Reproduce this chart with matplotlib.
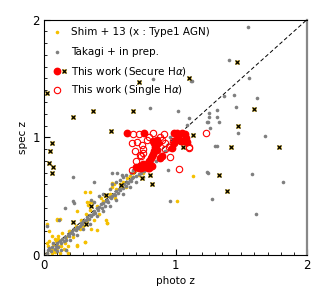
import matplotlib
matplotlib.use("Agg")
import matplotlib.pyplot as plt
from matplotlib.ticker import MultipleLocator

# ---------------- data ----------------
takagi_x = [0.02, 0.03, 0.04, 0.05, 0.06, 0.07, 0.08, 0.09, 0.10, 0.10, 0.11, 0.12, 0.13, 0.13, 0.14, 0.15,
            0.16, 0.17, 0.17, 0.18, 0.19, 0.20, 0.20, 0.21, 0.22, 0.23, 0.24, 0.25, 0.25, 0.26, 0.27, 0.28,
            0.29, 0.30, 0.30, 0.31, 0.32, 0.33, 0.34, 0.35, 0.35, 0.36, 0.36, 0.37, 0.38, 0.38, 0.39, 0.40,
            0.40, 0.41, 0.42, 0.42, 0.43, 0.44, 0.45, 0.45, 0.45, 0.46, 0.47, 0.48, 0.49, 0.50, 0.50, 0.50,
            0.51, 0.52, 0.52, 0.53, 0.54, 0.55, 0.55, 0.55, 0.56, 0.57, 0.58, 0.58, 0.59, 0.60, 0.60, 0.60,
            0.61, 0.62, 0.62, 0.63, 0.64, 0.65, 0.65, 0.66, 0.66, 0.67, 0.68, 0.68, 0.70, 0.70, 0.72, 0.72,
            0.74, 0.75, 0.76, 0.76, 0.78, 0.80, 0.82, 0.85, 0.88, 0.90, 0.92, 0.95, 0.98, 0.96, 1.00, 1.02,
            0.223, 0.38, 0.52, 0.553, 0.59, 0.224, 0.228, 0.157, 0.117, 0.025,
            0.945, 0.958, 1.085, 1.237, 1.25, 1.242, 1.58, 1.815, 1.28, 1.612,
            1.30, 1.315, 1.478, 1.68, 1.262, 1.245, 1.33, 1.255, 1.316, 1.255, 1.313, 1.46, 1.021, 1.103,
            1.369, 1.447, 1.62, 1.118, 1.559, 1.407, 1.549, 0.826, 0.808, 1.123]
takagi_y = [0.02, 0.04, 0.06, 0.03, 0.07, 0.10, 0.05, 0.08, 0.10, 0.03, 0.07, 0.12, 0.10, 0.04, 0.14, 0.12,
            0.15, 0.13, 0.04, 0.17, 0.16, 0.19, 0.13, 0.20, 0.18, 0.22, 0.21, 0.24, 0.17, 0.23, 0.25, 0.27,
            0.26, 0.29, 0.22, 0.28, 0.30, 0.32, 0.31, 0.34, 0.26, 0.33, 0.47, 0.35, 0.37, 0.45, 0.36, 0.40,
            0.33, 0.38, 0.41, 0.50, 0.43, 0.40, 0.44, 0.52, 0.37, 0.42, 0.46, 0.47, 0.45, 0.49, 0.56, 0.42,
            0.48, 0.50, 0.60, 0.52, 0.51, 0.54, 0.62, 0.47, 0.53, 0.56, 0.55, 0.64, 0.58, 0.57, 0.66, 0.52,
            0.60, 0.59, 0.68, 0.62, 0.61, 0.64, 0.58, 0.63, 0.70, 0.65, 0.66, 0.72, 0.67, 0.62, 0.69, 0.74,
            0.70, 0.66, 0.71, 0.76, 0.73, 0.74, 0.78, 0.80, 0.84, 0.86, 0.88, 0.90, 0.95, 1.00, 0.98, 1.02,
            0.66, 0.623, 0.694, 0.70, 0.68, 0.46, 0.445, 0.397, 0.30, 0.246,
            0.72, 0.459, 1.105, 1.13, 0.70, 0.702, 0.69, 0.618, 0.477, 0.347,
            0.926, 0.926, 1.034, 1.011, 1.076, 1.13, 1.13, 1.17, 1.172, 1.204, 1.232, 1.255, 1.226, 1.166,
            1.35, 1.357, 1.336, 1.478, 1.50, 1.657, 1.94, 1.495, 1.25, 1.478]

shim_x = [0.02, 0.03, 0.04, 0.05, 0.06, 0.07, 0.08, 0.09, 0.10, 0.11, 0.12, 0.13, 0.15, 0.16, 0.17, 0.18,
          0.20, 0.22, 0.24, 0.25, 0.27, 0.28, 0.30, 0.31, 0.32, 0.33, 0.35, 0.36, 0.37, 0.38, 0.40, 0.42,
          0.43, 0.45, 0.47, 0.48, 0.50, 0.52, 0.55, 0.58, 0.60, 0.62, 0.65, 0.68, 0.70, 0.72, 0.75,
          0.10, 0.122, 0.096, 0.084, 0.02, 0.25, 0.312, 0.347, 0.325, 0.515, 1.009, 1.133, 0.19, 0.14,
          0.06, 0.04, 0.058, 0.084, 0.109, 0.17, 0.18, 0.02, 0.11, 0.337, 0.35, 0.477, 0.40, 0.532, 0.629,
          0.54, 0.464, 0.249, 0.312]
shim_y = [0.02, 0.08, 0.12, 0.05, 0.02, 0.09, 0.04, 0.12, 0.06, 0.14, 0.02, 0.08, 0.05, 0.10, 0.15, 0.08,
          0.20, 0.15, 0.25, 0.08, 0.22, 0.30, 0.25, 0.11, 0.35, 0.30, 0.38, 0.22, 0.45, 0.30, 0.42, 0.35,
          0.48, 0.46, 0.30, 0.27, 0.52, 0.58, 0.56, 0.60, 0.62, 0.58, 0.67, 0.70, 0.72, 0.68, 0.70,
          0.30, 0.306, 0.31, 0.14, 0.26, 0.37, 0.538, 0.538, 0.453, 0.61, 0.461, 0.674, 0.20, 0.19,
          0.16, 0.20, 0.045, 0.026, 0.074, 0.045, 0.02, 0.10, 0.16, 0.427, 0.45, 0.272, 0.215, 0.603, 0.654,
          0.484, 0.498, 0.085, 0.113]

agn_x = [0.02, 0.223, 0.375, 0.507, 0.674, 0.725, 1.103, 1.13, 1.465, 1.597, 1.475, 1.42, 1.79,
         0.058, 0.046, 0.04, 0.066, 0.058, 0.223, 0.32, 0.355, 0.743, 0.806, 0.819, 1.333, 1.389,
         1.06, 1.02, 0.47, 0.588]
agn_y = [1.375, 1.17, 1.223, 1.054, 1.223, 1.472, 1.50, 1.022, 1.637, 1.24, 1.099, 0.92, 0.92,
         0.954, 0.886, 0.78, 0.748, 0.70, 0.28, 0.266, 0.42, 0.654, 0.68, 0.60, 0.68, 0.546,
         0.915, 0.96, 0.51, 0.595]

secure_x = [0.63, 0.76, 0.99, 1.01, 1.05, 1.07, 1.02, 1.04, 1.06, 1.09, 1.08, 1.005, 0.99, 0.97, 0.88, 0.90,
            0.83, 0.84, 0.845, 0.85, 0.855, 0.86, 0.84, 0.83, 0.82, 0.81, 0.80, 0.79, 0.78, 0.76, 0.74, 0.72,
            0.70, 0.80, 0.82, 0.86, 0.87, 0.86, 0.73, 0.75, 0.79]
secure_y = [1.035, 1.035, 1.035, 1.04, 1.035, 1.03, 1.00, 0.97, 0.965, 0.96, 0.99, 0.975, 0.95, 0.905, 0.82, 0.84,
            0.97, 0.95, 0.92, 0.90, 0.94, 0.96, 0.88, 0.86, 0.84, 0.82, 0.80, 0.78, 0.76, 0.75, 0.74, 0.74,
            0.75, 0.74, 0.76, 0.98, 0.95, 0.89, 0.76, 0.77, 0.74]

single_x = [0.68, 0.72, 0.83, 0.91, 1.23, 1.03, 0.96, 1.105, 1.10, 0.667, 0.705, 0.743, 0.78, 0.80, 0.88,
            0.90, 0.92, 0.69, 0.73, 0.75, 0.74, 0.70, 0.667, 0.95, 0.98, 0.75, 0.92]
single_y = [1.03, 1.03, 1.04, 1.03, 1.035, 0.73, 0.835, 0.905, 0.92, 0.949, 0.963, 0.935, 0.98, 1.00, 1.00,
            0.98, 0.95, 0.88, 0.85, 0.87, 0.84, 0.80, 0.722, 0.92, 0.97, 0.90, 0.90]

legend_labels = ["Shim + 13 (x : Type1 AGN)", "Takagi + in prep.",
                 r"This work (Secure H$\alpha$)", r"This work (Single H$\alpha$)"]

# ---------------- figure ----------------
fig = plt.figure(figsize=(3.27, 3.06), dpi=100)
ax = fig.add_axes([0.1346, 0.1667, 0.8044, 0.7693])

YEL = "#f5c000"
GRAY = "#7f7f7f"
RED = "#ff0000"
MS_RED = 4.6

ax.plot([0, 2], [0, 2], ls=(0, (4, 2.5)), color="black", lw=0.7, zorder=1)
ax.plot(shim_x, shim_y, "o", ms=2.6, mfc=YEL, mec="none", zorder=2)
ax.plot(takagi_x, takagi_y, "o", ms=2.6, mfc=GRAY, mec="none", zorder=3)
ax.plot(agn_x, agn_y, "s", ms=3.2, mfc=YEL, mec="none", zorder=4)
ax.plot(agn_x, agn_y, "x", ms=3.0, mew=0.9, color="black", zorder=5)
ax.plot(single_x, single_y, "o", ms=MS_RED, mfc="none", mec=RED, mew=0.8, zorder=6)
ax.plot(secure_x, secure_y, "o", ms=MS_RED, mfc=RED, mec=RED, zorder=7)

ax.set_xlim(0, 2)
ax.set_ylim(0, 2)
ax.xaxis.set_major_locator(MultipleLocator(1))
ax.yaxis.set_major_locator(MultipleLocator(1))
ax.xaxis.set_minor_locator(MultipleLocator(0.1))
ax.yaxis.set_minor_locator(MultipleLocator(0.1))
ax.tick_params(which="both", direction="in", top=False, right=False, labelsize=8.5, pad=3)
ax.tick_params(which="major", length=4, width=0.8)
ax.tick_params(which="minor", length=2, width=0.6)
ax.set_xlabel("photo z", fontsize=7.5, labelpad=3)
ax.set_ylabel("spec z", fontsize=7.5, labelpad=3)
for s in ("left", "bottom", "top"):
    ax.spines[s].set_color("black")
    ax.spines[s].set_linewidth(0.8)
ax.spines["right"].set_color("#888888")
ax.spines["right"].set_linewidth(1.6)

# manual legend
T = ax.transAxes
rows = [0.947, 0.862, 0.781, 0.700]
xm, xt = 0.049, 0.103
ax.plot([xm], [rows[0]], "o", ms=2.6, mfc=YEL, mec="none", transform=T, clip_on=False)
ax.plot([xm], [rows[1]], "o", ms=2.6, mfc=GRAY, mec="none", transform=T, clip_on=False)
ax.plot([xm], [rows[2]], "o", ms=MS_RED, mfc=RED, mec=RED, transform=T, clip_on=False)
ax.plot([0.077], [rows[2]], "s", ms=3.2, mfc=YEL, mec="none", transform=T, clip_on=False)
ax.plot([0.077], [rows[2]], "x", ms=3.0, mew=0.9, color="black", transform=T, clip_on=False)
ax.plot([xm], [rows[3]], "o", ms=MS_RED, mfc="none", mec=RED, mew=0.8, transform=T, clip_on=False)
for r, lab in zip(rows, legend_labels):
    ax.text(xt, r, lab, transform=T, fontsize=7.5, va="center", ha="left")

fig.savefig("out.png", dpi=100)
